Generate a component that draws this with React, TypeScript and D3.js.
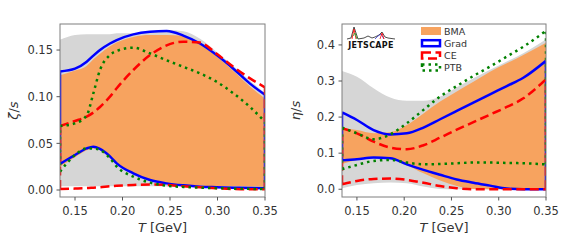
import React from 'react';
import * as d3 from 'd3';

// temperatures [GeV] where values were read
const T_ZETA = [0.1342, 0.15, 0.1623, 0.1693, 0.1763, 0.1868, 0.1939, 0.2114, 0.229, 0.2465, 0.264, 0.2816, 0.2991, 0.3167, 0.3342, 0.35];

// zeta/s panel
const zetaPriorHi = [0.161, 0.166, 0.167, 0.167, 0.167, 0.167, 0.168, 0.168, 0.170, 0.1715, 0.170, 0.162, 0.148, 0.133, 0.117, 0.104];
const zetaPriorLo = [0.004, 0.004, 0.004, 0.004, 0.004, 0.004, 0.004, 0.004, 0.004, 0.0038, 0.0036, 0.0034, 0.0032, 0.003, 0.003, 0.003];
const zetaBmaHi = [0.123, 0.128, 0.133, 0.140, 0.146, 0.154, 0.158, 0.164, 0.166, 0.166, 0.165, 0.157, 0.143, 0.1275, 0.111, 0.098];
const zetaBmaLo = [0.025, 0.035, 0.0425, 0.0445, 0.0425, 0.034, 0.028, 0.017, 0.0107, 0.007, 0.0055, 0.0046, 0.0042, 0.004, 0.0038, 0.0036];
const zetaGradHi = [0.127, 0.130, 0.1375, 0.144, 0.150, 0.157, 0.1607, 0.1668, 0.1696, 0.1704, 0.1655, 0.157, 0.1446, 0.130, 0.114, 0.102];
const zetaGradLo = [0.028, 0.0375, 0.0446, 0.0464, 0.044, 0.036, 0.0286, 0.0179, 0.0107, 0.0071, 0.005, 0.0036, 0.003, 0.0025, 0.0021, 0.0018];
const zetaCeHi = [0.0686, 0.074, 0.0786, 0.083, 0.089, 0.100, 0.109, 0.1286, 0.1446, 0.155, 0.159, 0.158, 0.146, 0.132, 0.1196, 0.110];
const zetaCeLo = [0.001, 0.0015, 0.002, 0.0025, 0.003, 0.004, 0.0045, 0.0054, 0.006, 0.0054, 0.004, 0.003, 0.002, 0.001, 0.0008, 0.0007];
const zetaPtbHi = [0.0686, 0.0714, 0.080, 0.1036, 0.1286, 0.1446, 0.149, 0.1525, 0.1464, 0.139, 0.132, 0.125, 0.116, 0.1036, 0.089, 0.073];
const zetaPtbLo = [0.0196, 0.0375, 0.0446, 0.0445, 0.0429, 0.034, 0.025, 0.0143, 0.0079, 0.0046, 0.0033, 0.0025, 0.002, 0.0015, 0.0012, 0.001];

const T_ETA = [0.1342, 0.15, 0.1676, 0.1852, 0.2028, 0.2204, 0.238, 0.2556, 0.2732, 0.2908, 0.3085, 0.326, 0.35];

// eta/s panel
const etaPriorHi = [0.328, 0.312, 0.280, 0.254, 0.245, 0.245, 0.257, 0.283, 0.3076, 0.331, 0.354, 0.377, 0.416];
const etaPriorLo = [0.003, 0.012, 0.0166, 0.0185, 0.0166, 0.0074, 0.001, 0, 0, 0, 0, 0, 0];
const etaBmaHi = [0.169, 0.164, 0.155, 0.158, 0.178, 0.21, 0.243, 0.271, 0.298, 0.326, 0.349, 0.372, 0.406];
const etaBmaLo = [0.070, 0.081, 0.0887, 0.086, 0.0674, 0.044, 0.024, 0.009, 0.001, 0, 0, 0, 0];
const etaGradHi = [0.213, 0.192, 0.164, 0.152, 0.155, 0.171, 0.194, 0.217, 0.240, 0.263, 0.286, 0.309, 0.356];
const etaGradLo = [0.080, 0.083, 0.088, 0.086, 0.069, 0.0536, 0.040, 0.027, 0.018, 0.010, 0.002, 0, 0];
const etaCeHi = [0.169, 0.155, 0.132, 0.1155, 0.111, 0.122, 0.143, 0.165, 0.186, 0.207, 0.228, 0.252, 0.305];
const etaCeLo = [0.0139, 0.023, 0.0286, 0.0296, 0.026, 0.018, 0.009, 0.003, 0, 0, 0, 0, 0];
const etaPtbHi = [0.171, 0.155, 0.1386, 0.152, 0.183, 0.22, 0.257, 0.286, 0.314, 0.340, 0.3677, 0.395, 0.439];
const etaPtbLo = [0.0554, 0.0674, 0.0785, 0.0813, 0.074, 0.069, 0.070, 0.072, 0.074, 0.074, 0.073, 0.072, 0.069];

const xTicks = [0.15, 0.20, 0.25, 0.30, 0.35];
const zetaTicks = [0.0, 0.05, 0.10, 0.15];
const etaTicks = [0.0, 0.1, 0.2, 0.3, 0.4];
const legendLabels = ['BMA', 'Grad', 'CE', 'PTB'];

const ORANGE = '#f7a35f';
const GRAY = '#d6d6d6';
const TXT = '#333';
const FONT = 'DejaVu Sans, sans-serif';

const styles = [
  { color: 'blue', dash: null },
  { color: 'red', dash: '9,4.5' },
  { color: 'green', dash: '2.5,4' },
];

type Panel = {
  left: number; right: number; top: number; bottom: number;
  T: number[]; yDomain: [number, number]; yTicks: number[]; fmt: string;
  prior: number[][]; bma: number[][]; lines: number[][][]; ylab: string; legend: boolean;
};

function Chart({ p }: { p: Panel }) {
  const x = d3.scaleLinear().domain([0.1342, 0.35]).range([p.left, p.right]);
  const y = d3.scaleLinear().domain(p.yDomain).range([p.bottom, p.top]);
  const pts = (v: number[]) => v.map((d, i) => [x(p.T[i]), y(d)] as [number, number]);
  const line = d3.line().curve(d3.curveMonotoneX);
  const area = (hi: number[], lo: number[]) =>
    d3.area<number>().curve(d3.curveMonotoneX)
      .x((_, i) => x(p.T[i])).y0((_, i) => y(lo[i])).y1(d => y(d))(hi) || '';
  // upper + lower curve plus the two vertical edges, like an unfilled band outline
  const bandLines = (hi: number[], lo: number[]) => {
    const n = p.T.length - 1;
    return (line(pts(hi)) || '') + ' ' + (line(pts(lo)) || '') +
      `M${x(p.T[0])},${y(lo[0])}L${x(p.T[0])},${y(hi[0])}M${x(p.T[n])},${y(lo[n])}L${x(p.T[n])},${y(hi[n])}`;
  };
  const id = 'clip' + p.left;
  const fmt = d3.format(p.fmt);
  const cx = (p.left + p.right) / 2;
  return (
    <g>
      <defs>
        <clipPath id={id}><rect x={p.left} y={p.top} width={p.right - p.left} height={p.bottom - p.top} /></clipPath>
      </defs>
      <g clipPath={`url(#${id})`}>
        <path d={area(p.prior[0], p.prior[1])} fill={GRAY} />
        <path d={area(p.bma[0], p.bma[1])} fill={ORANGE} />
        {p.lines.map((l, i) => (
          <path key={i} d={bandLines(l[0], l[1])} fill="none" stroke={styles[i].color} strokeWidth={2.5}
            strokeDasharray={styles[i].dash || undefined} />
        ))}
      </g>
      <rect x={p.left} y={p.top} width={p.right - p.left} height={p.bottom - p.top} fill="none" stroke="#7f7f7f" strokeWidth={1} />
      {xTicks.map(t => (
        <g key={t}>
          <line x1={x(t)} x2={x(t)} y1={p.bottom} y2={p.bottom + 3.5} stroke="#555" />
          <text x={x(t)} y={p.bottom + 18} textAnchor="middle" fontSize={11.5} fill={TXT} fontFamily={FONT}>{d3.format('.2f')(t)}</text>
        </g>
      ))}
      {p.yTicks.map(t => (
        <g key={t}>
          <line x1={p.left - 3.5} x2={p.left} y1={y(t)} y2={y(t)} stroke="#555" />
          <text x={p.left - 7} y={y(t) + 4.2} textAnchor="end" fontSize={11.5} fill={TXT} fontFamily={FONT}>{fmt(t)}</text>
        </g>
      ))}
      <text x={cx} y={p.bottom + 35} textAnchor="middle" fontSize={13} fill={TXT} fontFamily={FONT}>
        <tspan fontStyle="italic">T</tspan> [GeV]
      </text>
      <text transform={`translate(${p.left - 42},${(p.top + p.bottom) / 2}) rotate(-90)`} textAnchor="middle" fontSize={13} fill={TXT} fontFamily={FONT}>
        <tspan fontStyle="italic">{p.ylab}</tspan>/<tspan fontStyle="italic">s</tspan>
      </text>
      {p.legend && (
        <g fontFamily={FONT} fontSize={9.5} fill={TXT}>
          {legendLabels.map((lab, i) => {
            const yy = 31 + i * 12.2;
            return (
              <g key={lab}>
                {i === 0 ? (
                  <rect x={421} y={yy - 4} width={20} height={8} fill={ORANGE} />
                ) : (
                  <rect x={422} y={yy - 3} width={18} height={6} fill="white" stroke={styles[i - 1].color}
                    strokeWidth={2.5} strokeDasharray={styles[i - 1].dash || undefined} />
                )}
                <text x={444} y={yy + 3.5}>{lab}</text>
              </g>
            );
          })}
          <g>
            <path d="M347,39 L351,38 L354,27 L358,39 L364,38 L368,36 L372,38 L375,37 L379,35 L382,32 L385,37 L388,38 L395,39" fill="none" stroke="#222" strokeWidth={0.8} />
            <path d="M352,39 L354,29 L356,39" fill="none" stroke="red" strokeWidth={0.8} />
            <path d="M353,36 L355,33 L357,39" fill="none" stroke="#2a2" strokeWidth={0.8} />
            <path d="M375,39 L378,36 L381,34 L384,39" fill="none" stroke="#33c" strokeWidth={0.8} />
            <path d="M380,39 L382,33 L384,39" fill="none" stroke="red" strokeWidth={0.8} />
            <text x={371} y={48} textAnchor="middle" fontSize={8} fontWeight="bold" fill="#111" letterSpacing={0.3}>JETSCAPE</text>
          </g>
        </g>
      )}
    </g>
  );
}

export default function App() {
  const left: Panel = {
    left: 60, right: 265, top: 24, bottom: 197, T: T_ZETA, yDomain: [-0.0075, 0.1779], yTicks: zetaTicks, fmt: '.2f',
    prior: [zetaPriorHi, zetaPriorLo], bma: [zetaBmaHi, zetaBmaLo],
    lines: [[zetaGradHi, zetaGradLo], [zetaCeHi, zetaCeLo], [zetaPtbHi, zetaPtbLo]], ylab: 'ζ', legend: false,
  };
  const right: Panel = {
    left: 342, right: 546, top: 24, bottom: 197, T: T_ETA, yDomain: [-0.0215, 0.458], yTicks: etaTicks, fmt: '.1f',
    prior: [etaPriorHi, etaPriorLo], bma: [etaBmaHi, etaBmaLo],
    lines: [[etaGradHi, etaGradLo], [etaCeHi, etaCeLo], [etaPtbHi, etaPtbLo]], ylab: 'η', legend: true,
  };
  return (
    <svg width={567} height={243} style={{ position: 'absolute', left: 0, top: 0, background: 'white' }}>
      <Chart p={left} />
      <Chart p={right} />
    </svg>
  );
}
